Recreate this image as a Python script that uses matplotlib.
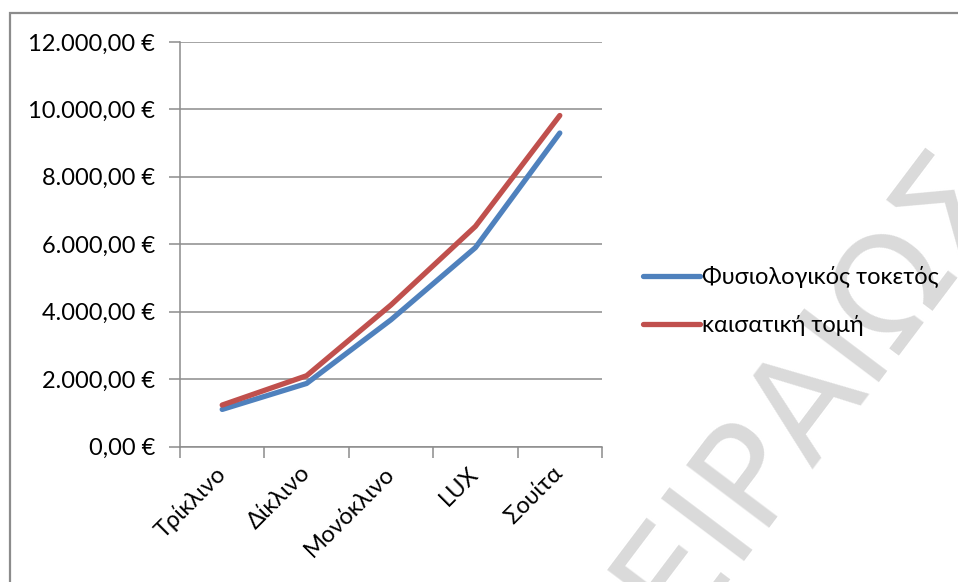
import matplotlib
matplotlib.use("Agg")
import matplotlib.pyplot as plt
from matplotlib.patches import Rectangle
from matplotlib.ticker import FixedLocator, FuncFormatter
import numpy as np

plt.rcParams['font.family'] = ['Lato', 'DejaVu Sans']

# room categories and cost per delivery type
rooms = ['Τρίκλινο', 'Δίκλινο', 'Μονόκλινο', 'LUX', 'Σουίτα']
normal_birth = [1100, 1870, 3760, 5900, 9300]
c_section = [1230, 2100, 4200, 6530, 9820]

W, H = 958, 582
fig = plt.figure(figsize=(W / 100, H / 100), dpi=100)

def px(x0, y0, x1, y1):
    # pixel box (top-left origin) -> figure fraction rect
    return [x0 / W, 1 - y1 / H, (x1 - x0) / W, (y1 - y0) / H]

# outer chart border
fig.patches.append(Rectangle((10 / W, -0.05), 1.1, 1 - 13 / H + 0.05,
                             transform=fig.transFigure, fill=False,
                             edgecolor='#8c8c8c', lw=1.6, zorder=0))

# background watermark
fig.text(780 / W, 1 - 430 / H, 'ΠΕΙΡΑΙΩΣ', rotation=53, fontsize=102,
         color='#dadada', ha='center', va='center', zorder=0,
         family=['DejaVu Sans'])

ax = fig.add_axes(px(180, 42, 602, 446.5))
ax.set_facecolor('none')
ax.set_zorder(2)

x = np.arange(len(rooms))
ax.plot(x, normal_birth, color='#4F81BD', lw=3.8, solid_capstyle='round',
        solid_joinstyle='round', label='Φυσιολογικός τοκετός')
ax.plot(x, c_section, color='#C0504D', lw=3.8, solid_capstyle='round',
        solid_joinstyle='round', label='καισατική τομή')

ax.set_xlim(-0.5, len(rooms) - 0.5)
ax.set_ylim(0, 12000)

def euro(v, pos):
    s = f"{v:,.2f}".replace(',', 'X').replace('.', ',').replace('X', '.')
    return s + ' €'

ax.yaxis.set_major_locator(FixedLocator(np.arange(0, 12001, 2000)))
ax.yaxis.set_major_formatter(FuncFormatter(euro))
ax.yaxis.grid(True, color='#8c8c8c', lw=1.1)
ax.set_axisbelow(True)

ax.xaxis.set_major_locator(FixedLocator(np.arange(-0.5, len(rooms), 1.0)))
ax.xaxis.set_major_formatter(FuncFormatter(lambda v, p: ''))
ax.xaxis.set_minor_locator(FixedLocator(x))
ax.set_xticklabels(rooms, minor=True)

ax.tick_params(axis='y', length=8, width=1.1, color='#8c8c8c', labelsize=17,
               pad=10, direction='out')
ax.tick_params(axis='x', which='major', length=8, width=1.1, color='#8c8c8c',
               direction='out')
ax.tick_params(axis='x', which='minor', length=0, labelsize=17, pad=17)
for lbl in ax.get_xticklabels(minor=True):
    lbl.set_rotation(45)
    lbl.set_ha('right')
    lbl.set_rotation_mode('anchor')
    lbl.set_va('center')

for s in ['top', 'right']:
    ax.spines[s].set_visible(False)
for s in ['left', 'bottom']:
    ax.spines[s].set_color('#8c8c8c')
    ax.spines[s].set_linewidth(1.1)

leg = fig.legend(loc='center left', bbox_to_anchor=(622 / W, 1 - 301 / H),
                 frameon=False, fontsize=17, handlelength=2.4,
                 handletextpad=0.1, labelspacing=1.15)

fig.savefig('out.png', dpi=100)
